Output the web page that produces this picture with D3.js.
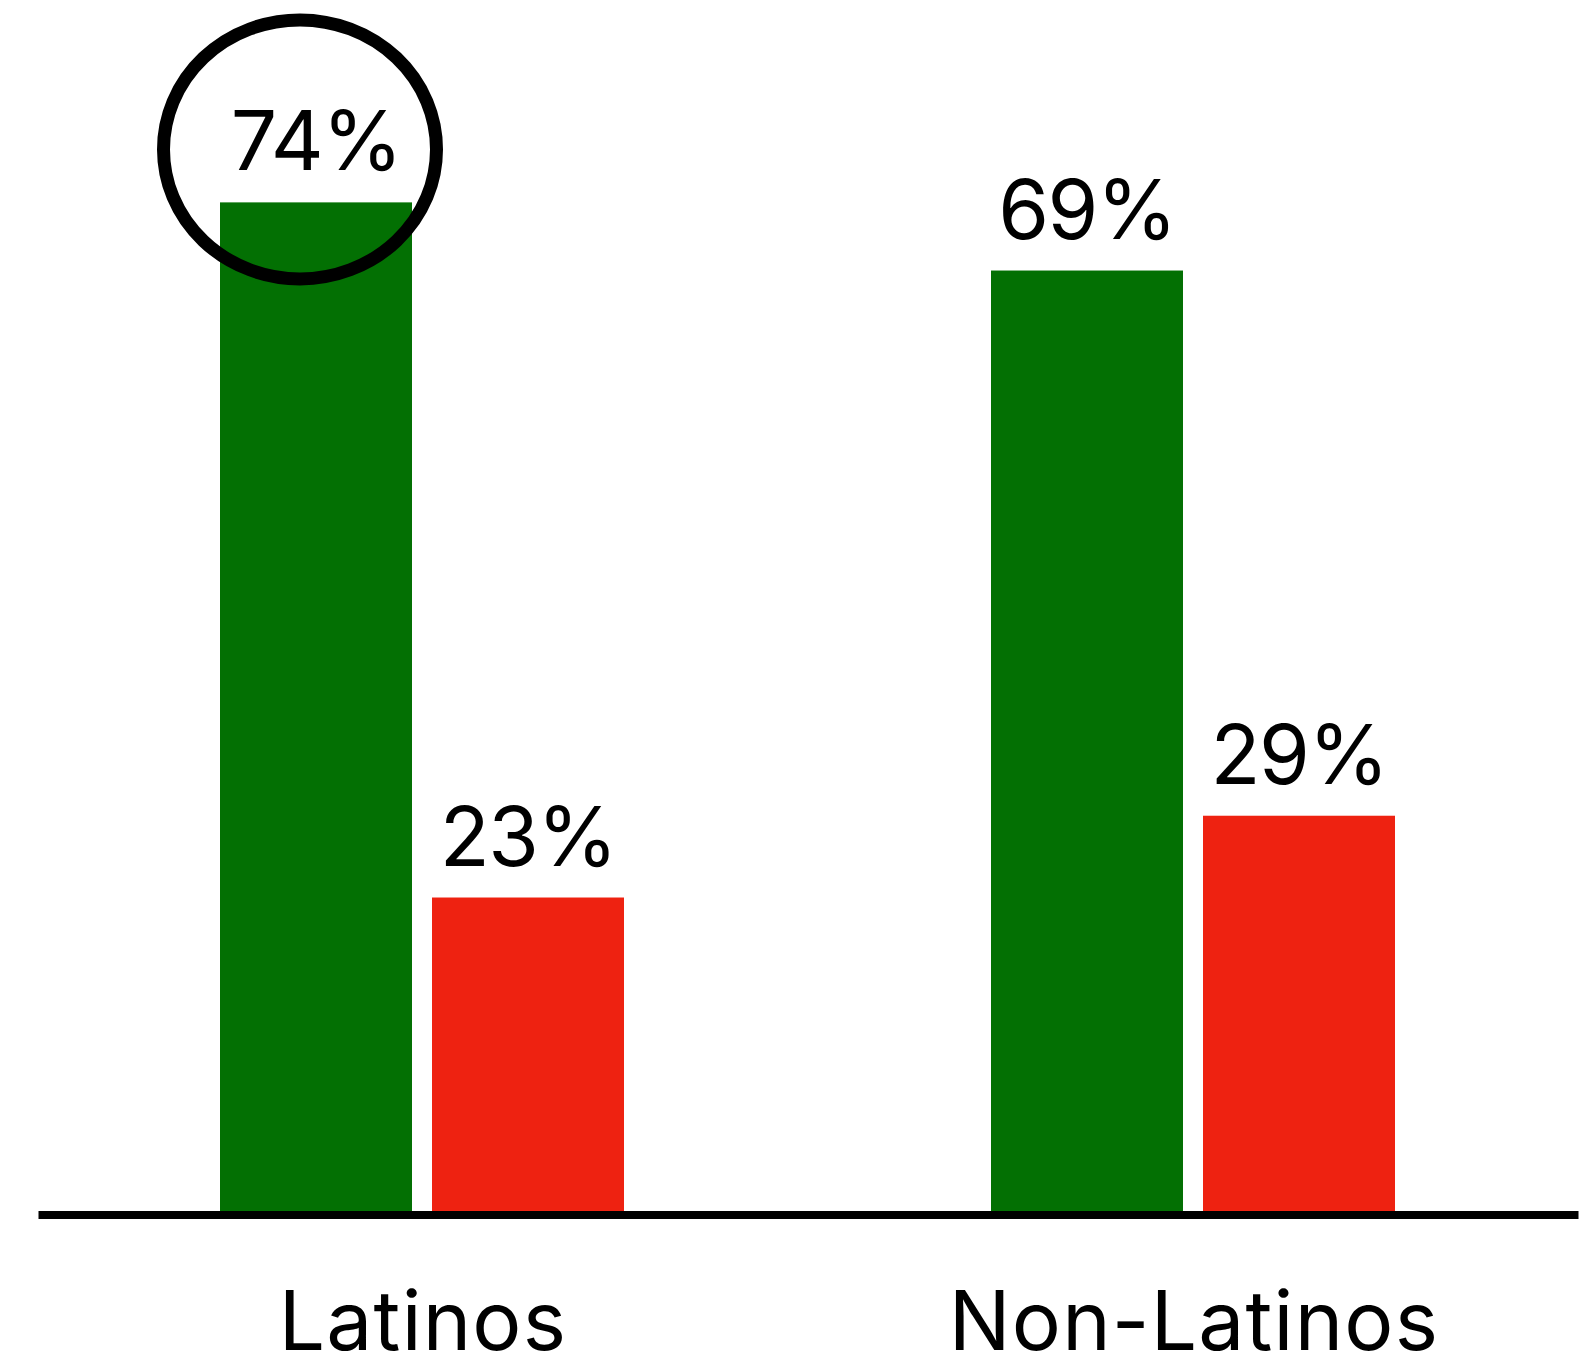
<!DOCTYPE html>
<html>
<head>
<meta charset="utf-8">
<script src="https://cdn.jsdelivr.net/npm/d3@7"></script>
<style>
  html, body { margin: 0; padding: 0; background: #ffffff; }
  svg { display: block; }
  text { font-family: Inter, "Noto Sans", sans-serif; fill: #000; }
</style>
</head>
<body>
<svg id="chart" width="1588" height="1358"></svg>
<script>
// ---- data ----
const categories = ["Latinos", "Non-Latinos"];
const seriesKeys = ["favor", "oppose"];
const favorValues = [74, 69];
const opposeValues = [23, 29];
const valueLabels = [["74%", "23%"], ["69%", "29%"]];
const highlighted = { category: "Latinos", series: "favor" };

const colors = { favor: "#037003", oppose: "#ee2211" };

// ---- layout ----
const baseY = 1211;
const svg = d3.select("#chart");

const rows = categories.map((c, i) => ({
  category: c,
  values: [
    { key: "favor", value: favorValues[i], label: valueLabels[i][0] },
    { key: "oppose", value: opposeValues[i], label: valueLabels[i][1] }
  ]
}));

const x0 = d3.scaleBand()
  .domain(categories)
  .range([36.5, 1578.5])
  .paddingInner(367 / 771)
  .paddingOuter(367 / 771 / 2);

const x1 = d3.scaleBand()
  .domain(seriesKeys)
  .range([0, x0.bandwidth()])
  .paddingInner(20 / 212)
  .paddingOuter(0);

const y = d3.scaleLinear().domain([0, 100]).range([baseY, baseY - 1363]);

const groups = svg.selectAll("g.group")
  .data(rows)
  .join("g")
  .attr("class", "group")
  .attr("transform", d => `translate(${x0(d.category)},0)`);

groups.selectAll("rect")
  .data(d => d.values)
  .join("rect")
  .attr("x", d => x1(d.key))
  .attr("y", d => y(d.value))
  .attr("width", x1.bandwidth())
  .attr("height", d => y(0) - y(d.value))
  .attr("fill", d => colors[d.key]);

groups.selectAll("text.val")
  .data(d => d.values)
  .join("text")
  .attr("class", "val")
  .attr("x", d => x1(d.key) + x1.bandwidth() / 2)
  .attr("y", d => y(d.value) - 32)
  .attr("text-anchor", "middle")
  .attr("font-size", 82)
  .attr("letter-spacing", -1.5)
  .text(d => d.label);

// baseline (x axis line)
svg.append("line")
  .attr("x1", x0.range()[0] + 2)
  .attr("x2", x0.range()[1])
  .attr("y1", baseY + 4)
  .attr("y2", baseY + 4)
  .attr("stroke", "#000")
  .attr("stroke-width", 8);

// category labels
svg.selectAll("text.cat")
  .data(categories)
  .join("text")
  .attr("class", "cat")
  .attr("x", d => x0(d) + x0.bandwidth() / 2 + 1)
  .attr("y", 1350)
  .attr("text-anchor", "middle")
  .attr("font-size", 82)
  .attr("letter-spacing", 1.2)
  .text(d => d);

// highlight circle around the Latinos favor label
const hiRow = rows.find(r => r.category === highlighted.category);
const hiVal = hiRow.values.find(v => v.key === highlighted.series);
svg.append("ellipse")
  .attr("cx", x0(highlighted.category) + x1(highlighted.series) + x1.bandwidth() / 2 - 16)
  .attr("cy", y(hiVal.value) - 53)
  .attr("rx", 136.5)
  .attr("ry", 129.5)
  .attr("fill", "none")
  .attr("stroke", "#000")
  .attr("stroke-width", 13);
</script>
</body>
</html>
